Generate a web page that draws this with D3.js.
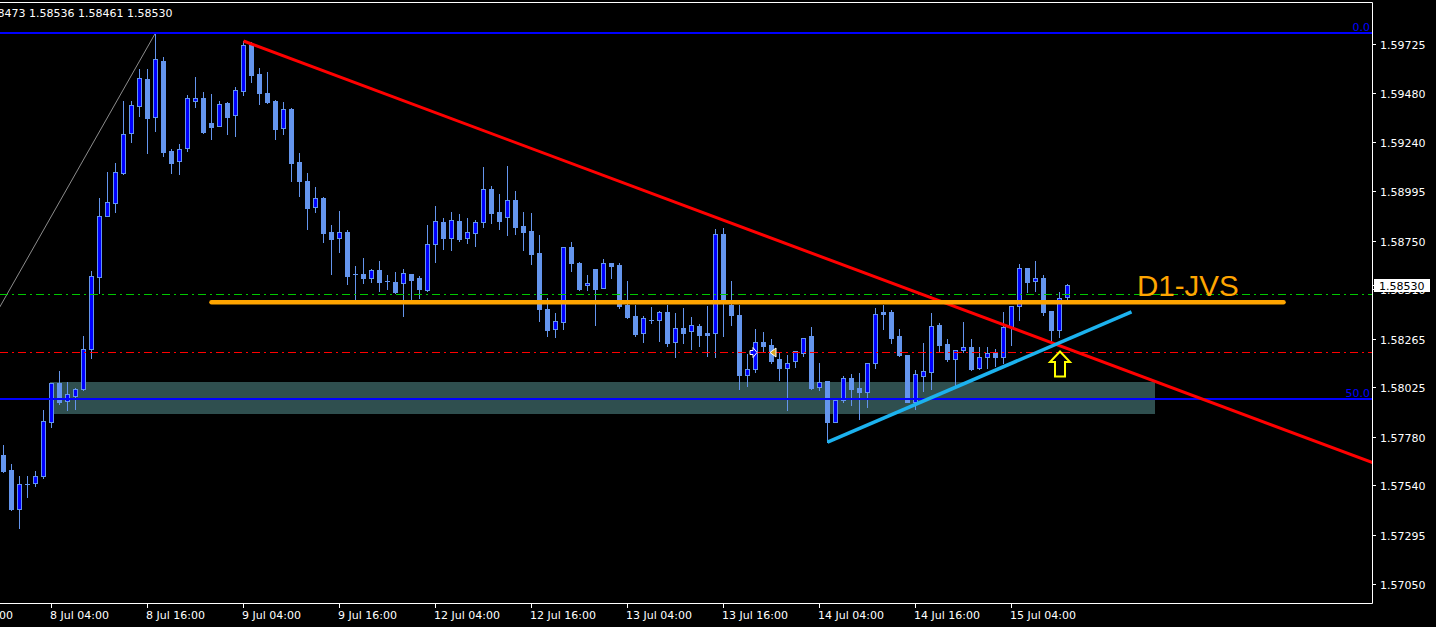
<!DOCTYPE html>
<html><head><meta charset="utf-8">
<script src="https://cdn.jsdelivr.net/npm/d3@7"></script>
<style>html,body{margin:0;padding:0;background:#000;overflow:hidden}svg{display:block}</style>
</head><body><svg id="c" width="1436" height="627"></svg>
<script>
// ---- Data (H1 candles) ----
const opens = [1.57687,1.57613,1.57420,1.57548,1.57553,1.57583,1.57855,1.58048,1.57959,1.57979,
1.58014,1.58216,1.58568,1.58870,1.58939,1.59083,1.59281,1.59419,1.59548,1.59360,
1.59642,1.59192,1.59147,1.59211,1.59444,1.59454,1.59335,1.59320,1.59434,1.59370,
1.59489,1.59721,1.59573,1.59479,1.59444,1.59310,1.59400,1.59142,1.59048,1.58919,
1.58959,1.58791,1.58761,1.58791,1.58583,1.58583,1.58563,1.58603,1.58553,1.58548,
1.58543,1.58583,1.58563,1.58504,1.58736,1.58845,1.58761,1.58850,1.58761,1.58786,
1.58845,1.59008,1.58890,1.58865,1.58954,1.58825,1.58796,1.58687,1.58414,1.58311,
1.58350,1.58721,1.58642,1.58533,1.58608,1.58518,1.58642,1.58632,1.58434,1.58375,
1.58291,1.58360,1.58360,1.58395,1.58251,1.58320,1.58301,1.58330,1.58291,1.58291,
1.58781,1.58434,1.58380,1.58083,1.58113,1.58251,1.58236,1.58162,1.58122,1.58157,
1.58192,1.58276,1.58028,1.58058,1.57855,1.57964,1.58068,1.58023,1.57999,1.58147,
1.58395,1.58395,1.58276,1.58182,1.57954,1.58078,1.58098,1.58335,1.58241,1.58162,
1.58207,1.58226,1.58122,1.58172,1.58192,1.58172,1.58325,1.58429,1.58617,1.58553,
1.58563,1.58400,1.58306,1.58473];
const highs = [1.57741,1.57647,1.57583,1.57583,1.57608,1.57910,1.58048,1.58103,1.58053,1.58023,
1.58276,1.58598,1.58959,1.59088,1.59137,1.59444,1.59444,1.59602,1.59598,1.59781,
1.59657,1.59202,1.59231,1.59469,1.59558,1.59484,1.59474,1.59444,1.59439,1.59513,
1.59741,1.59736,1.59607,1.59583,1.59449,1.59439,1.59409,1.59182,1.59083,1.59018,
1.58964,1.58830,1.58895,1.58801,1.58627,1.58662,1.58612,1.58652,1.58578,1.58593,
1.58612,1.58583,1.58573,1.58830,1.58924,1.58860,1.58890,1.58880,1.58860,1.58855,
1.59117,1.59023,1.58979,1.59122,1.58994,1.58890,1.58885,1.58776,1.58464,1.58390,
1.58721,1.58746,1.58647,1.58578,1.58608,1.58657,1.58642,1.58642,1.58553,1.58434,
1.58375,1.58424,1.58400,1.58434,1.58390,1.58419,1.58370,1.58340,1.58429,1.58806,
1.58815,1.58553,1.58434,1.58187,1.58315,1.58296,1.58261,1.58192,1.58182,1.58202,
1.58266,1.58325,1.58147,1.58058,1.57964,1.58078,1.58088,1.58093,1.58147,1.58419,
1.58434,1.58405,1.58311,1.58182,1.58108,1.58246,1.58390,1.58345,1.58261,1.58207,
1.58350,1.58261,1.58226,1.58226,1.58216,1.58395,1.58429,1.58637,1.58617,1.58652,
1.58578,1.58400,1.58494,1.58536];
const lows = [1.57603,1.57415,1.57330,1.57479,1.57538,1.57573,1.57830,1.57944,1.57910,1.57919,
1.58012,1.58167,1.58489,1.58870,1.58890,1.59078,1.59241,1.59365,1.59182,1.59291,
1.59167,1.59083,1.59078,1.59192,1.59414,1.59284,1.59251,1.59318,1.59276,1.59266,
1.59469,1.59538,1.59429,1.59434,1.59251,1.59276,1.59048,1.58969,1.58810,1.58890,
1.58746,1.58583,1.58692,1.58538,1.58459,1.58543,1.58548,1.58499,1.58509,1.58489,
1.58375,1.58459,1.58464,1.58499,1.58647,1.58711,1.58706,1.58751,1.58741,1.58726,
1.58820,1.58840,1.58806,1.58776,1.58781,1.58706,1.58637,1.58355,1.58276,1.58271,
1.58311,1.58598,1.58504,1.58504,1.58335,1.58518,1.58563,1.58419,1.58365,1.58276,
1.58251,1.58345,1.58256,1.58231,1.58172,1.58246,1.58216,1.58231,1.58177,1.58172,
1.58276,1.58335,1.58014,1.58033,1.58098,1.58197,1.58147,1.58063,1.57910,1.58127,
1.58177,1.58018,1.58009,1.57756,1.57855,1.57954,1.57939,1.57865,1.57929,1.58122,
1.58311,1.58246,1.58177,1.57954,1.57915,1.58004,1.58018,1.58197,1.58157,1.58028,
1.58197,1.58108,1.58113,1.58122,1.58132,1.58147,1.58236,1.58360,1.58494,1.58499,
1.58380,1.58246,1.58271,1.58461];
const closes = [1.57608,1.57424,1.57548,1.57548,1.57583,1.57860,1.58048,1.57954,1.57989,1.58014,
1.58216,1.58573,1.58870,1.58944,1.59088,1.59276,1.59424,1.59553,1.59355,1.59647,
1.59187,1.59137,1.59206,1.59454,1.59454,1.59286,1.59315,1.59429,1.59360,1.59494,
1.59721,1.59568,1.59479,1.59439,1.59305,1.59404,1.59137,1.59048,1.58914,1.58959,
1.58786,1.58756,1.58791,1.58573,1.58583,1.58563,1.58603,1.58548,1.58553,1.58494,
1.58588,1.58558,1.58509,1.58736,1.58850,1.58761,1.58855,1.58756,1.58791,1.58845,
1.59008,1.58885,1.58850,1.58954,1.58820,1.58791,1.58682,1.58410,1.58306,1.58355,
1.58721,1.58642,1.58513,1.58543,1.58513,1.58642,1.58627,1.58429,1.58370,1.58286,
1.58365,1.58360,1.58395,1.58246,1.58320,1.58291,1.58335,1.58281,1.58281,1.58781,
1.58449,1.58380,1.58083,1.58117,1.58251,1.58231,1.58157,1.58122,1.58147,1.58202,
1.58266,1.58023,1.58053,1.57855,1.57964,1.58068,1.58018,1.57999,1.58147,1.58385,
1.58385,1.58266,1.58182,1.57954,1.58088,1.58103,1.58330,1.58236,1.58162,1.58207,
1.58226,1.58113,1.58172,1.58192,1.58172,1.58325,1.58429,1.58617,1.58548,1.58563,
1.58395,1.58306,1.58464,1.58530];

const timeTickIdx = [-6,6,18,30,42,54,66,78,90,102,114,126];
const timeLabels = ["7 Jul 16:00","8 Jul 04:00","8 Jul 16:00","9 Jul 04:00","9 Jul 16:00","12 Jul 04:00",
  "12 Jul 16:00","13 Jul 04:00","13 Jul 16:00","14 Jul 04:00","14 Jul 16:00","15 Jul 04:00"];
const priceTicks = [1.59725,1.59480,1.59240,1.58995,1.58750,1.58510,1.58265,1.58025,1.57780,1.57540,1.57295,1.57050];
const priceTickLabels = ["1.59725","1.59480","1.59240","1.58995","1.58750","1.58510","1.58265","1.58025","1.57780","1.57540","1.57295","1.57050"];
const headerValues = ["1.58473","1.58536","1.58461","1.58530"];
const currentPrice = 1.58530, currentPriceLabel = "1.58530";
const fibHigh = {i:19, p:1.59781}, fibLow = {i:-33, p:1.56157};
const fibLevels = [0, 50], fibLabels = ["0.0","50.0"];
const redTrend = [{i:30, p:1.59741},{i:133, p:1.58218}];
const blueTrend = [{i:103, p:1.57756},{i:141, p:1.58400}];
const jvsLine = {i1:26, i2:160, p:1.58448}, jvsLabel = "D1-JVS";
const zone = {i1:5.8, i2:143.9, top:1.58053, bottom:1.57896};
const greenLevel = 1.58486, redLevel = 1.58200;
const tradeOpen = {i:94, p:1.58200}, tradeClose = {i:96, p:1.58200};
const arrowMark = {i:132, p:1.58204};

// ---- Layout ----
const W = 1436, H = 627, plotR = 1372, plotB = 603, plotT = 2;
const x = d3.scaleLinear().domain([-0.4375, 171.0625]).range([0, plotR]);
const y = d3.scaleLinear().domain([1.5695915, 1.59944]).range([plotB, 0]);
const cr = v => Math.floor(v) + 0.5;
const FONT = "DejaVu Sans, Verdana, sans-serif";
const CB = "#6495ED", BULL = "#0000FF";

const svg = d3.select("#c");
svg.append("rect").attr("width", W).attr("height", H).attr("fill", "#000");
svg.append("defs").append("clipPath").attr("id","plot")
  .append("rect").attr("x",0).attr("y",plotT).attr("width",plotR).attr("height",plotB-plotT);
const g = svg.append("g").attr("clip-path","url(#plot)");

// zone rectangle (background)
g.append("rect")
  .attr("x", Math.round(x(zone.i1))).attr("y", Math.round(y(zone.top)))
  .attr("width", Math.round(x(zone.i2)) - Math.round(x(zone.i1)))
  .attr("height", Math.round(y(zone.bottom)) - Math.round(y(zone.top)))
  .attr("fill", "#2F4F4F");

// candles
const data = opens.map((o,k) => ({i:k, o, h:highs[k], l:lows[k], c:closes[k]}));
const cg = g.append("g");
data.forEach(d => {
  const cx = Math.round(x(d.i) - 0.5) + 0.5;
  cg.append("line").attr("x1",cx).attr("x2",cx)
    .attr("y1", Math.floor(y(d.h))).attr("y2", Math.floor(y(d.l)) + 1)
    .attr("stroke", CB).attr("stroke-width",1);
  const yo = Math.floor(y(d.o)), yc = Math.floor(y(d.c));
  const top = Math.min(yo,yc), bot = Math.max(yo,yc);
  if (bot - top < 1) {
    cg.append("line").attr("x1",cx-2.5).attr("x2",cx+2.5)
      .attr("y1",top+0.5).attr("y2",top+0.5).attr("stroke",CB).attr("stroke-width",1);
  } else {
    cg.append("rect").attr("x",cx-2).attr("y",top+0.5).attr("width",4).attr("height",bot-top)
      .attr("fill", d.c > d.o ? BULL : CB).attr("stroke",CB).attr("stroke-width",1);
  }
});

// fib lines
const fibPrice = lv => fibHigh.p - (fibHigh.p - fibLow.p) * lv / 100;
g.append("line").attr("x1", x(fibLow.i)).attr("y1", y(fibLow.p))
  .attr("x2", x(fibHigh.i)).attr("y2", y(fibHigh.p))
  .attr("stroke", "#8c8c8c").attr("stroke-width", 1);
fibLevels.forEach((lv,k) => {
  const yy = Math.round(y(fibPrice(lv)));
  g.append("line").attr("x1",0).attr("x2",plotR).attr("y1",yy).attr("y2",yy)
    .attr("stroke","#0000FF").attr("stroke-width",2);
  g.append("text").attr("x",1370).attr("y",yy-2).attr("text-anchor","end")
    .attr("font-family",FONT).attr("font-size",11).attr("fill","#0000FF").text(fibLabels[k]);
});

// horizontal dash-dot levels
[[greenLevel,"#00C800"],[redLevel,"#FF0000"]].forEach(([p,col]) => {
  g.append("line").attr("x1",0).attr("x2",plotR).attr("y1",cr(y(p))).attr("y2",cr(y(p)))
    .attr("stroke",col).attr("stroke-width",1).attr("stroke-dasharray","8,4,2,4");
});

// trade markers
{
  const ox = Math.round(x(tradeOpen.i)), oy = cr(y(tradeOpen.p));
  const cx2 = Math.round(x(tradeClose.i)) - 2;
  g.append("line").attr("x1",ox).attr("x2",cx2).attr("y1",oy).attr("y2",oy)
    .attr("stroke","#FF0000").attr("stroke-dasharray","2,2");
  g.append("path").attr("d",`M${ox-6},${oy-2}h3v-3l4,5l-4,5v-3h-3z`)
    .attr("fill","#0000FF").attr("stroke","#FFFFFF").attr("stroke-width",1);
  g.append("path").attr("d",`M${cx2},${oy}l6,-4.5v9z`)
    .attr("fill","#DAA520").attr("stroke","#FFFFFF").attr("stroke-width",1);
}

// red trend ray
{
  const x1 = x(redTrend[0].i), y1 = y(redTrend[0].p), x2 = x(redTrend[1].i), y2 = y(redTrend[1].p);
  const s = (y2-y1)/(x2-x1);
  g.append("line").attr("x1",x1).attr("y1",y1).attr("x2",plotR+5).attr("y2",y1 + s*(plotR+5-x1))
    .attr("stroke","#FF0000").attr("stroke-width",3);
}
// blue trend
g.append("line").attr("x1",x(blueTrend[0].i)).attr("y1",y(blueTrend[0].p))
  .attr("x2",x(blueTrend[1].i)).attr("y2",y(blueTrend[1].p))
  .attr("stroke","#1CB2EE").attr("stroke-width",3.5);
// orange D1-JVS line
g.append("line").attr("x1",x(jvsLine.i1)).attr("x2",x(jvsLine.i2))
  .attr("y1",y(jvsLine.p)).attr("y2",y(jvsLine.p))
  .attr("stroke","#FFA500").attr("stroke-width",4.5).attr("stroke-linecap","round");
g.append("text").attr("x",1137).attr("y",296)
  .attr("font-family","Liberation Sans, Arial, sans-serif").attr("font-size",29.5)
  .attr("fill","#FFA500").text(jvsLabel);

// yellow arrow
{
  const ax = Math.round(x(arrowMark.i)), ay = y(arrowMark.p);
  g.append("path").attr("d",`M${ax},${ay}L${ax+10},${ay+10.5}H${ax+5}V${ay+25}H${ax-5}V${ay+10.5}H${ax-10}Z`)
    .attr("fill","#000").attr("stroke","#FFFF00").attr("stroke-width",2).attr("stroke-linejoin","miter");
}

// header
svg.append("text").attr("x",-20).attr("y",17).attr("font-family",FONT).attr("font-size",11)
  .attr("fill","#FFFFFF").text("1.58473 " + headerValues.slice(1).join(" "));

// frame
svg.append("path").attr("d",`M0,${plotT+0.5}H${plotR+0.5}V${plotB+0.5}H0`)
  .attr("fill","none").attr("stroke","#FFFFFF").attr("stroke-width",1);

// price axis
priceTicks.forEach((p,k) => {
  const yy = cr(y(p));
  svg.append("line").attr("x1",plotR).attr("x2",plotR+4).attr("y1",yy).attr("y2",yy).attr("stroke","#FFFFFF");
  svg.append("text").attr("x",1380).attr("y",yy+4).attr("font-family",FONT).attr("font-size",11)
    .attr("fill","#FFFFFF").text(priceTickLabels[k]);
});
{
  const yy = cr(y(currentPrice));
  svg.append("line").attr("x1",plotR).attr("x2",plotR+4).attr("y1",yy).attr("y2",yy).attr("stroke","#FFFFFF");
  svg.append("rect").attr("x",1374).attr("y",Math.floor(yy)-6).attr("width",56).attr("height",13).attr("fill","#FFFFFF");
  svg.append("text").attr("x",1379).attr("y",Math.floor(yy)+4.5).attr("font-family",FONT).attr("font-size",11)
    .attr("fill","#000000").text(currentPriceLabel);
}

// time axis
timeTickIdx.forEach((t,k) => {
  const xx = Math.round(x(t) - 0.5) + 0.5;
  svg.append("line").attr("x1",xx).attr("x2",xx).attr("y1",plotB).attr("y2",plotB+5).attr("stroke","#FFFFFF");
  svg.append("text").attr("x",xx-1.5).attr("y",619).attr("font-family",FONT).attr("font-size",11)
    .attr("fill","#FFFFFF").text(timeLabels[k]);
});
</script></body></html>
